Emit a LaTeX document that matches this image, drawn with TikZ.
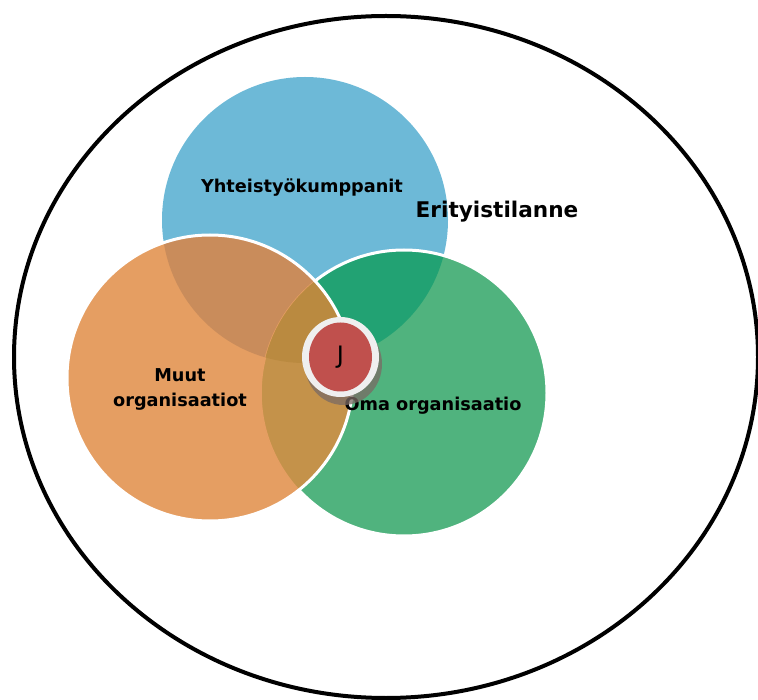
\documentclass[tikz,border=0pt]{standalone}
\usepackage{fontspec}
\setmainfont{DejaVu Sans}
\usepackage{tikz}
\usetikzlibrary{positioning}
\definecolor{yhtblue}{HTML}{6DB9D7}
\definecolor{omagreen}{HTML}{50B37E}
\definecolor{muutorange}{HTML}{E59E62}
\definecolor{yhtomagreen}{HTML}{22A273}
\definecolor{muutyhtbrown}{HTML}{C98C5B}
\definecolor{muutomagold}{HTML}{C4924A}
\definecolor{triplegold}{HTML}{BA8A40}
\definecolor{jred}{HTML}{C0504D}
\definecolor{jring}{HTML}{EFEFEF}
\definecolor{jshadow}{HTML}{7A6A64}
\tikzstyle{venntext} = [inner sep=0pt, align=center, font=\bfseries\fontsize{17.7}{25}\selectfont]
\tikzstyle{rim} = [white, line width=3pt]

\begin{document}
\begin{tikzpicture}[x=1pt, y=-1pt]
  \useasboundingbox (0,0) rectangle (758,700);
  % Centres
  \coordinate (cyht) at (305,220);
  \coordinate (coma) at (404,393);
  \coordinate (cmuut) at (210,378);
  \coordinate (cj) at (340.5,357);

  % Outer ellipse
  \draw[line width=4pt] (386,357) ellipse (372pt and 341pt);

  % Circles
  \fill[yhtblue] (cyht) circle (143pt);
  \fill[omagreen] (coma) circle (143pt);
  \begin{scope}
    \clip (cyht) circle (143pt);
    \fill[yhtomagreen] (coma) circle (143pt);
  \end{scope}
  \draw[rim] (coma) circle (143pt);
  \fill[muutorange] (cmuut) circle (143pt);
  \begin{scope}
    \clip (cmuut) circle (143pt);
    \fill[muutyhtbrown] (cyht) circle (143pt);
    \fill[muutomagold] (coma) circle (143pt);
    \draw[muutorange, line width=1.5pt] (coma) circle (143pt);
    \clip (coma) circle (143pt);
    \fill[triplegold] (cyht) circle (143pt);
  \end{scope}
  \draw[rim] (cmuut) circle (143pt);

  % Nodes
  \node (yhttext) [venntext, anchor=base] at (302,193) {Yhteistyökumppanit};
  \node (eritext) [inner sep=0pt, anchor=base, font=\bfseries\fontsize{21.6}{26}\selectfont] at (497,218) {Erityistilanne};
  \node (muuttext) [venntext] at (180,389) {Muut\\organisaatiot};
  \node (omatext) [venntext, anchor=base] at (433,411) {Oma organisaatio};

  % J
  \fill[jshadow, opacity=0.75] ([shift={(3,7)}]cj) ellipse (38.5pt and 41pt);
  \fill[jring] (cj) ellipse (38.5pt and 40pt);
  \fill[jred] (cj) ellipse (31.5pt and 34.5pt);
  \node (jnode) [inner sep=0pt, font=\fontsize{24}{28}\selectfont] at (cj) {J};
\end{tikzpicture}
\end{document}
